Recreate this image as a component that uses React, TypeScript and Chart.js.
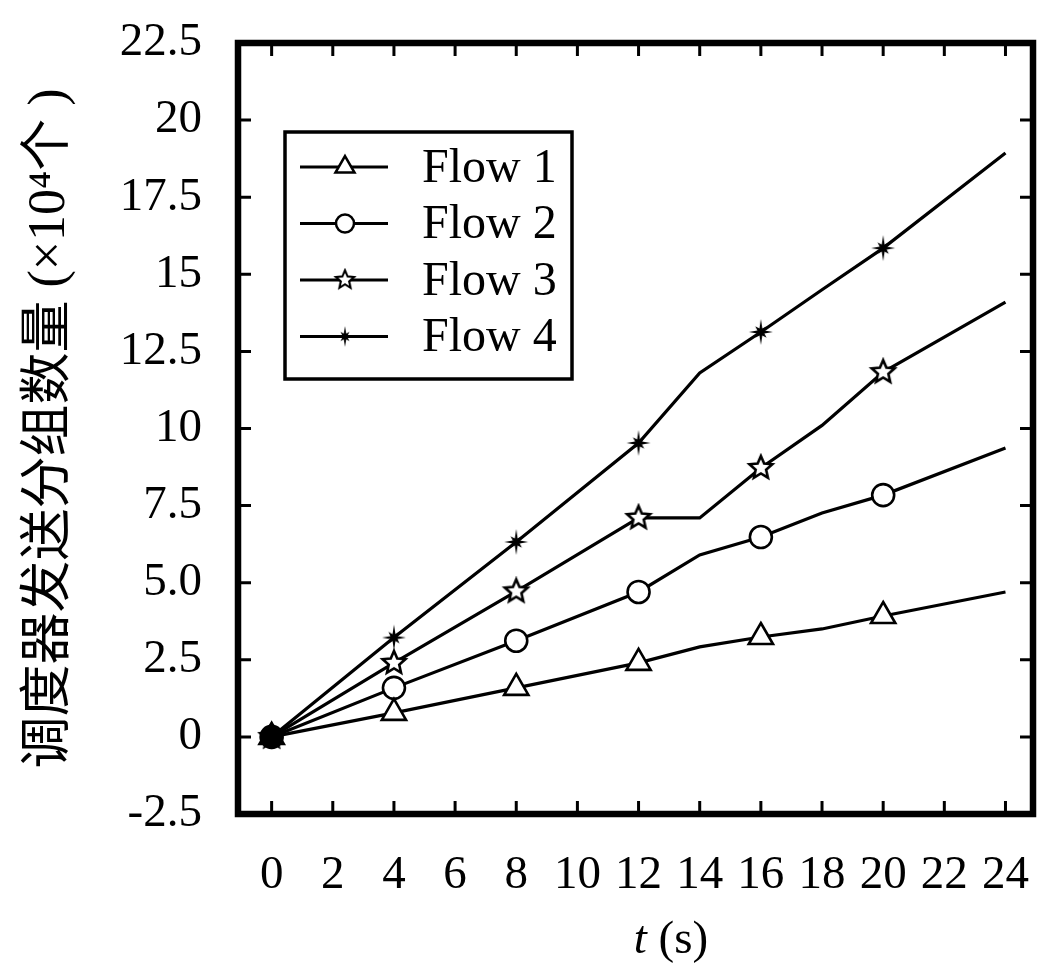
import React, { useEffect, useRef } from "react";
import { Chart, registerables } from "chart.js";

Chart.register(...registerables);

// ---------- data ----------
const times = [0, 4, 8, 12, 14, 16, 18, 20, 24];
const markerTimes = [0, 4, 8, 12, 16, 20];
const flow1 = [0, 0.78, 1.59, 2.4, 2.92, 3.24, 3.5, 3.92, 4.7];
const flow2 = [0, 1.59, 3.12, 4.7, 5.9, 6.48, 7.26, 7.84, 9.37];
const flow3 = [0, 2.4, 4.72, 7.1, 7.1, 8.72, 10.1, 11.83, 14.1];
const flow4 = [0, 3.22, 6.32, 9.53, 11.8, 13.13, 14.5, 15.85, 18.93];
const seriesLabels = ["Flow 1", "Flow 2", "Flow 3", "Flow 4"];
const xTicks = [0, 2, 4, 6, 8, 10, 12, 14, 16, 18, 20, 22, 24];
const yTicks = [-2.5, 0, 2.5, 5, 7.5, 10, 12.5, 15, 17.5, 20, 22.5];
const yTickLabels = ["-2.5", "0", "2.5", "5.0", "7.5", "10", "12.5", "15", "17.5", "20", "22.5"];
const xTitleItalic = "t";
const xTitleRest = " (s)";
const yTitle = "调度器发送分组数量 (×10⁴个 )";

const SERIF = "'Liberation Serif', 'Times New Roman', serif";

function makeStarCanvas(
  points: number[],
  inner: number,
  fill: string,
  stroke: string | null,
  lw: number,
  size: number
): HTMLCanvasElement {
  const c = document.createElement("canvas");
  c.width = size;
  c.height = size;
  const g = c.getContext("2d")!;
  const cx = size / 2;
  const cy = size / 2;
  const n = points.length;
  g.beginPath();
  for (let i = 0; i < n; i++) {
    const a0 = -Math.PI / 2 + (i * 2 * Math.PI) / n;
    const a1 = a0 + Math.PI / n;
    const ox = cx + points[i] * Math.cos(a0);
    const oy = cy + points[i] * Math.sin(a0);
    if (i === 0) g.moveTo(ox, oy);
    else g.lineTo(ox, oy);
    g.lineTo(cx + inner * Math.cos(a1), cy + inner * Math.sin(a1));
  }
  g.closePath();
  g.fillStyle = fill;
  g.fill();
  if (stroke) {
    g.strokeStyle = stroke;
    g.lineWidth = lw;
    g.lineJoin = "miter";
    g.stroke();
  }
  return c;
}

export default function App() {
  const ref = useRef<HTMLCanvasElement | null>(null);

  useEffect(() => {
    if (!ref.current) return;

    const star5Open = makeStarCanvas([12, 12, 12, 12, 12], 5.5, "#fff", "#000", 2.6, 30);
    const star5Filled = makeStarCanvas([12, 12, 12, 12, 12], 5.5, "#000", "#000", 2.6, 30);
    const spark = makeStarCanvas([13, 8, 12, 8, 13, 8, 12, 8], 3.8, "#000", null, 0, 30);

    const seriesValues = [flow1, flow2, flow3, flow4];
    const isMarker = (i: number) => markerTimes.includes(times[i]);

    type Spec = { style: any; styleFirst: any; radius: number; legendRadius: number };
    const specs: Spec[] = [
      { style: "triangle", styleFirst: "triangle", radius: 14, legendRadius: 11 },
      { style: "circle", styleFirst: "circle", radius: 11, legendRadius: 9 },
      { style: star5Open, styleFirst: star5Filled, radius: 12, legendRadius: 10 },
      { style: spark, styleFirst: spark, radius: 12, legendRadius: 10 },
    ];

    const datasets = seriesValues.map((vals, k) => ({
      label: seriesLabels[k],
      data: times.map((t, i) => ({ x: t, y: vals[i] })),
      borderColor: "#000",
      borderWidth: 3.2,
      tension: 0,
      pointBorderColor: "#000",
      pointBorderWidth: 2.6,
      pointBackgroundColor: (c: any) => (c.dataIndex === 0 ? "#000" : "#fff"),
      pointStyle: (c: any) => {
        if (!isMarker(c.dataIndex)) return "circle";
        return c.dataIndex === 0 ? specs[k].styleFirst : specs[k].style;
      },
      pointRadius: (c: any) => (isMarker(c.dataIndex) ? specs[k].radius : 0),
      pointHoverRadius: (c: any) => (isMarker(c.dataIndex) ? specs[k].radius : 0),
    }));

    const framePlugin = {
      id: "frameTicks",
      afterDatasetsDraw(chart: any) {
        const { ctx, chartArea: a, scales } = chart;
        const xs = scales.x;
        const ys = scales.y;
        const tl = 13;
        ctx.save();
        ctx.strokeStyle = "#000";
        ctx.lineWidth = 3;
        ctx.beginPath();
        xTicks.forEach((v) => {
          const px = xs.getPixelForValue(v);
          ctx.moveTo(px, a.bottom);
          ctx.lineTo(px, a.bottom - tl);
          ctx.moveTo(px, a.top);
          ctx.lineTo(px, a.top + tl);
        });
        yTicks.forEach((v) => {
          const py = ys.getPixelForValue(v);
          ctx.moveTo(a.left, py);
          ctx.lineTo(a.left + tl, py);
          ctx.moveTo(a.right, py);
          ctx.lineTo(a.right - tl, py);
        });
        ctx.stroke();
        ctx.lineWidth = 6.5;
        ctx.strokeRect(a.left, a.top, a.right - a.left, a.bottom - a.top);
        ctx.restore();
      },
    };

    const drawMarker = (ctx: CanvasRenderingContext2D, style: any, x: number, y: number, r: number) => {
      ctx.save();
      ctx.strokeStyle = "#000";
      ctx.fillStyle = "#fff";
      ctx.lineWidth = 2.5;
      if (typeof style !== "string") {
        const s = (r * 2 + 4) / style.width;
        const w = style.width * s;
        ctx.drawImage(style, x - w / 2, y - w / 2, w, w);
      } else if (style === "triangle") {
        ctx.beginPath();
        ctx.moveTo(x, y - r);
        ctx.lineTo(x + r * Math.sin((Math.PI * 2) / 3), y - r * Math.cos((Math.PI * 2) / 3));
        ctx.lineTo(x + r * Math.sin((Math.PI * 4) / 3), y - r * Math.cos((Math.PI * 4) / 3));
        ctx.closePath();
        ctx.fill();
        ctx.stroke();
      } else {
        ctx.beginPath();
        ctx.arc(x, y, r, 0, Math.PI * 2);
        ctx.fill();
        ctx.stroke();
      }
      ctx.restore();
    };

    const legendPlugin = {
      id: "boxLegend",
      afterDraw(chart: any) {
        const { ctx, chartArea: a } = chart;
        const left = a.left + 47;
        const top = a.top + 89;
        const w = 287;
        const h = 247;
        ctx.save();
        ctx.fillStyle = "#fff";
        ctx.fillRect(left, top, w, h);
        ctx.strokeStyle = "#000";
        ctx.lineWidth = 3.5;
        ctx.strokeRect(left, top, w, h);
        seriesLabels.forEach((lab, i) => {
          const y = top + 35 + i * 56.5;
          ctx.strokeStyle = "#000";
          ctx.lineWidth = 3;
          ctx.beginPath();
          ctx.moveTo(left + 15, y);
          ctx.lineTo(left + 103, y);
          ctx.stroke();
          drawMarker(ctx, specs[i].style, left + 60, y, specs[i].legendRadius);
          ctx.fillStyle = "#000";
          ctx.font = `48px ${SERIF}`;
          ctx.textAlign = "left";
          ctx.textBaseline = "middle";
          ctx.fillText(lab, left + 137, y + 2);
        });
        ctx.restore();
      },
    };

    const xTitlePlugin = {
      id: "xTitle",
      afterDraw(chart: any) {
        const { ctx, chartArea: a } = chart;
        ctx.save();
        ctx.fillStyle = "#000";
        ctx.textBaseline = "middle";
        ctx.textAlign = "left";
        const fi = `italic 47px ${SERIF}`;
        const fn = `47px ${SERIF}`;
        ctx.font = fi;
        const w1 = ctx.measureText(xTitleItalic).width;
        ctx.font = fn;
        const w2 = ctx.measureText(xTitleRest).width;
        const cx = a.left + 433;
        const y = 941;
        const x0 = cx - (w1 + w2) / 2;
        ctx.font = fi;
        ctx.fillText(xTitleItalic, x0, y);
        ctx.font = fn;
        ctx.fillText(xTitleRest, x0 + w1, y);
        ctx.restore();
      },
    };

    const chart = new Chart(ref.current, {
      type: "line",
      data: { datasets: datasets as any },
      plugins: [framePlugin, legendPlugin, xTitlePlugin],
      options: {
        animation: false,
        responsive: false,
        maintainAspectRatio: false,
        devicePixelRatio: 1,
        layout: { autoPadding: false, padding: { top: 43, right: 7, bottom: 0, left: 0 } },
        plugins: {
          legend: { display: false },
          tooltip: { enabled: false },
        },
        scales: {
          x: {
            type: "linear",
            min: -1.1,
            max: 24.9,
            afterBuildTicks: (s: any) => {
              s.ticks = xTicks.map((v) => ({ value: v }));
            },
            afterFit: (s: any) => {
              s.height = 158;
              s.paddingLeft = 0;
              s.paddingRight = 0;
              s.paddingTop = 0;
              s.paddingBottom = 0;
            },
            grid: { display: false, drawTicks: false },
            border: { display: false },
            ticks: {
              color: "#000",
              padding: 33,
              maxRotation: 0,
              autoSkip: false,
              font: { family: SERIF, size: 47 },
              callback: (v: any) => String(v),
            },
          },
          y: {
            type: "linear",
            min: -2.5,
            max: 22.5,
            afterBuildTicks: (s: any) => {
              s.ticks = yTicks.map((v) => ({ value: v }));
            },
            afterFit: (s: any) => {
              s.width = 238;
              s.paddingLeft = 0;
              s.paddingRight = 0;
              s.paddingTop = 0;
              s.paddingBottom = 0;
            },
            grid: { display: false, drawTicks: false },
            border: { display: false },
            ticks: {
              color: "#000",
              padding: 36,
              autoSkip: false,
              font: { family: SERIF, size: 47 },
              callback: (v: any) => {
                const i = yTicks.indexOf(Number(v));
                return i >= 0 ? yTickLabels[i] : "";
              },
            },
            title: {
              display: true,
              text: yTitle,
              color: "#000",
              padding: { top: 19, bottom: 0 },
              font: { family: "'Liberation Serif', 'Noto Sans CJK SC', serif", size: 52 },
            },
          },
        },
      },
    });

    return () => chart.destroy();
  }, []);

  return (
    <div
      style={{
        position: "fixed",
        left: 0,
        top: 0,
        width: 1040,
        height: 972,
        background: "#fff",
      }}
    >
      <canvas ref={ref} width={1040} height={972} style={{ width: 1040, height: 972, display: "block" }} />
    </div>
  );
}
